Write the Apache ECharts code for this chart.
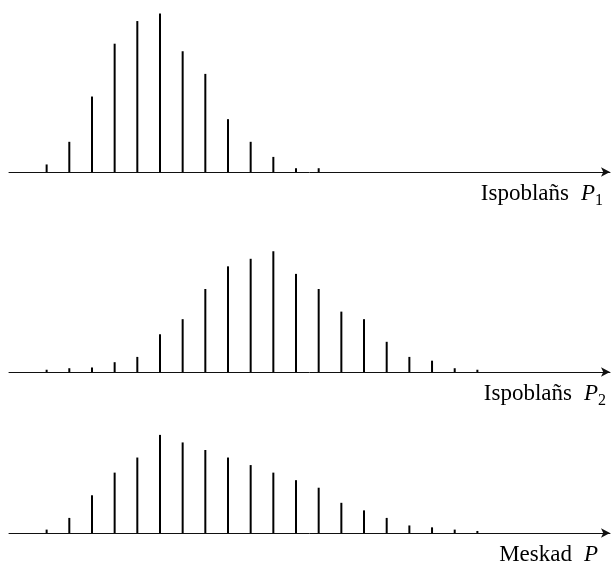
<!DOCTYPE html>
<html>
<head>
<meta charset="utf-8">
<script src="https://cdn.jsdelivr.net/npm/echarts@6/dist/echarts.min.js"></script>
<style>html,body{margin:0;padding:0;background:#fff}#c{width:614px;height:567px}</style>
</head>
<body>
<div id="c"></div>
<script>
// Values in arbitrary relative units
const p1Values = [1, 4, 10, 17, 20, 21, 16, 13, 7, 4, 2, 0.5, 0.5];
const p2Values = [0.3, 0.5, 0.6, 1.3, 2, 5, 7, 11, 14, 15, 16, 13, 11, 8, 7, 4, 2, 1.5, 0.5, 0.3];
const pValues  = [0.45, 2, 5, 8, 10, 13, 12, 11, 10, 9, 8, 7, 6, 4, 3, 2, 1, 0.75, 0.45, 0.27];
const panelLabels = [
  ['Ispoblañs', 'P', '1'],
  ['Ispoblañs', 'P', '2'],
  ['Meskad', 'P', '']
];

const font = 'Liberation Serif';
const chart = echarts.init(document.getElementById('c'), null, {renderer: 'canvas'});
const grids = [
  {left: 9, right: 4, top: 12, height: 160},
  {left: 9, right: 4, top: 212, height: 160},
  {left: 9, right: 4, top: 373, height: 160}
];
const series = [p1Values, p2Values, pValues];
const xAxes = grids.map((g, i) => ({
  type: 'value', gridIndex: i, min: -1.66, max: 24.85,
  axisLine: {show: true, onZero: true, symbol: ['none', 'arrow'], symbolSize: [7, 9],
             lineStyle: {color: '#111', width: 1}},
  axisTick: {show: false}, axisLabel: {show: false}, splitLine: {show: false}
}));
const yAxes = grids.map((g, i) => ({
  type: 'value', gridIndex: i, min: 0, max: 21.2, show: false, splitLine: {show: false}
}));
const titleTops = [181, 381, 542];
const titleRights = [11, 8, 16];
const titles = panelLabels.map((l, i) => ({
  text: '{a|' + l[0] + '}{p|' + l[1] + '}' + (l[2] ? '{s|' + l[2] + '}' : ''),
  right: titleRights[i], top: titleTops[i], padding: 0,
  textStyle: {
    fontWeight: 'normal',
    rich: {
      a: {fontFamily: font, fontSize: 23, fontWeight: 'normal', color: '#000', verticalAlign: 'bottom', lineHeight: 24},
      p: {fontFamily: font, fontSize: 23, fontWeight: 'normal', fontStyle: 'italic', color: '#000', verticalAlign: 'bottom', lineHeight: 24, padding: [0, 0, 0, 12]},
      s: {fontFamily: font, fontSize: 16, fontWeight: 'normal', color: '#000', verticalAlign: 'bottom', lineHeight: 16, padding: [0, 0, -4, 0]}
    }
  }
}));
chart.setOption({
  animation: false,
  backgroundColor: '#fff',
  title: titles,
  grid: grids,
  xAxis: xAxes,
  yAxis: yAxes,
  series: series.map((vals, i) => ({
    type: 'bar', xAxisIndex: i, yAxisIndex: i,
    barWidth: 2,
    itemStyle: {color: '#000'},
    data: vals.map((v, k) => [k, v])
  }))
});
</script>
</body>
</html>
